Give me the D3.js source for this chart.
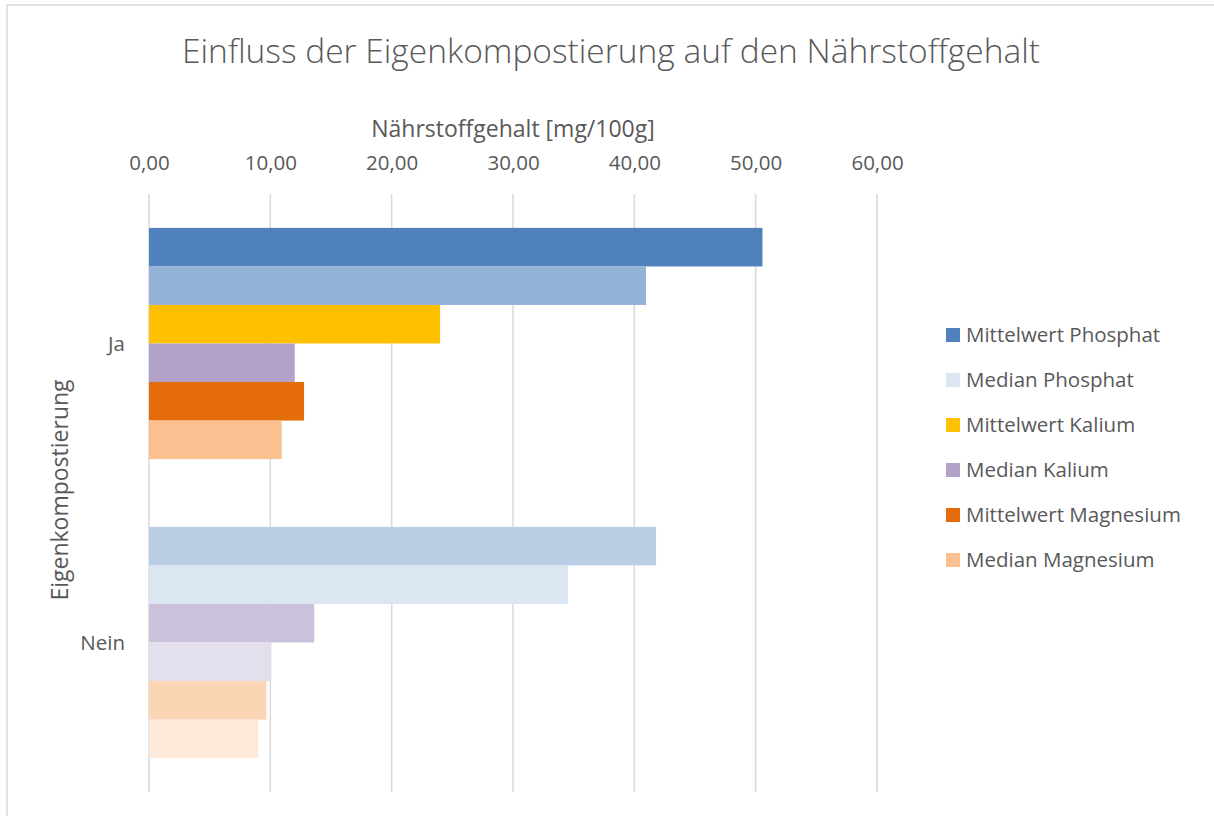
<!doctype html>
<html>
<head>
    <meta charset="utf-8">
    <style>
        body {
            margin: 0;
            background: #fff;
            font-family: "Open Sans", "Noto Sans", sans-serif;
        }
        text { fill: #595959; }
    </style>
    <script src="https://d3js.org/d3.v7.min.js"></script>
</head>
<body>
<svg width="1214" height="816"></svg>
<script>
    // data
    var categories = ["Ja", "Nein"];
    var series = ["Mittelwert Phosphat", "Median Phosphat", "Mittelwert Kalium",
                  "Median Kalium", "Mittelwert Magnesium", "Median Magnesium"];
    var valuesJa   = [50.56, 40.97, 23.99, 12.01, 12.78, 10.94];
    var valuesNein = [41.79, 34.53, 13.62, 10.09, 9.68, 9.00];
    var xTicks = [0, 10, 20, 30, 40, 50, 60];

    // colours (Excel varies them per point)
    var colorsJa   = ["#4f81bd", "#95b3d7", "#ffc000", "#b3a2c7", "#e46c0a", "#fac090"];
    var colorsNein = ["#b9cde5", "#dce6f2", "#ccc1da", "#e4dfec", "#fcd5b5", "#fdeada"];
    var legendColors = ["#4f81bd", "#dce6f2", "#ffc000", "#b3a2c7", "#e46c0a", "#fac090"];

    var values = { "Ja": valuesJa, "Nein": valuesNein };
    var colors = { "Ja": colorsJa, "Nein": colorsNein };

    var svg = d3.select("svg");

    // chart border (cut off on right and bottom like the reference)
    svg.append("rect")
        .attr("x", 7).attr("y", 5)
        .attr("width", 1400).attr("height", 1000)
        .attr("fill", "#fff")
        .attr("stroke", "#d9d9d9")
        .attr("stroke-width", 1.5);

    var plotLeft = 149, plotRight = 877, plotTop = 194, plotBottom = 792;

    var x = d3.scaleLinear().domain([0, 60]).range([plotLeft, plotRight]);
    var yCat = d3.scaleBand().domain(categories).range([plotTop, plotBottom]).padding(0);
    var ySer = d3.scaleBand().domain(series).range([0, yCat.bandwidth()])
        .paddingInner(0).paddingOuter(0.88);

    // gridlines
    svg.append("g")
        .selectAll("line")
        .data(xTicks)
        .enter()
        .append("line")
        .attr("x1", function(d) { return x(d); })
        .attr("x2", function(d) { return x(d); })
        .attr("y1", plotTop)
        .attr("y2", plotBottom)
        .attr("stroke", "#d9d9d9")
        .attr("stroke-width", 1.5);

    // top axis with tick labels
    var axis = svg.append("g")
        .attr("transform", "translate(0," + 164 + ")")
        .call(d3.axisTop(x).tickValues(xTicks).tickSize(0).tickPadding(0)
            .tickFormat(function(d) { return d3.format(".2f")(d).replace(".", ","); }));
    axis.select(".domain").remove();
    axis.selectAll("text")
        .attr("font-family", "Open Sans")
        .attr("font-size", "20.5px")
        .attr("dy", "0.3em")
        .style("fill", "#595959");

    // bars
    var groups = svg.selectAll(".cat")
        .data(categories)
        .enter()
        .append("g")
        .attr("class", "cat")
        .attr("transform", function(c) { return "translate(0," + yCat(c) + ")"; });

    groups.selectAll("rect")
        .data(function(c) {
            return series.map(function(s, i) {
                return { s: s, v: values[c][i], col: colors[c][i] };
            });
        })
        .enter()
        .append("rect")
        .attr("x", x(0))
        .attr("y", function(d) { return ySer(d.s); })
        .attr("width", function(d) { return x(d.v) - x(0); })
        .attr("height", ySer.bandwidth())
        .attr("fill", function(d) { return d.col; });

    // category labels
    svg.selectAll(".catlabel")
        .data(categories)
        .enter()
        .append("text")
        .attr("class", "catlabel")
        .attr("x", 125)
        .attr("y", function(c) { return yCat(c) + yCat.bandwidth() / 2; })
        .attr("dy", "0.35em")
        .attr("text-anchor", "end")
        .attr("font-size", "20.5px")
        .text(function(c) { return c; });

    // title
    svg.append("text")
        .attr("x", 611)
        .attr("y", 63)
        .attr("text-anchor", "middle")
        .attr("font-size", "33.5px")
        .attr("font-weight", 300)
        .text("Einfluss der Eigenkompostierung auf den Nährstoffgehalt");

    // x axis title
    svg.append("text")
        .attr("x", (plotLeft + plotRight) / 2)
        .attr("y", 137)
        .attr("text-anchor", "middle")
        .attr("font-size", "23px")
        .text("Nährstoffgehalt [mg/100g]");

    // y axis title
    svg.append("text")
        .attr("transform", "translate(68," + 490 + ") rotate(-90)")
        .attr("text-anchor", "middle")
        .attr("font-size", "23px")
        .text("Eigenkompostierung");

    // legend
    var legend = svg.selectAll(".legend")
        .data(series)
        .enter()
        .append("g")
        .attr("class", "legend")
        .attr("transform", function(d, i) { return "translate(946," + (335 + i * 45) + ")"; });

    legend.append("rect")
        .attr("x", 0)
        .attr("y", -7)
        .attr("width", 14)
        .attr("height", 14)
        .attr("fill", function(d, i) { return legendColors[i]; });

    legend.append("text")
        .attr("x", 20)
        .attr("y", 0)
        .attr("dy", "0.35em")
        .attr("font-size", "20.5px")
        .text(function(d) { return d; });
</script>
</body>
</html>
